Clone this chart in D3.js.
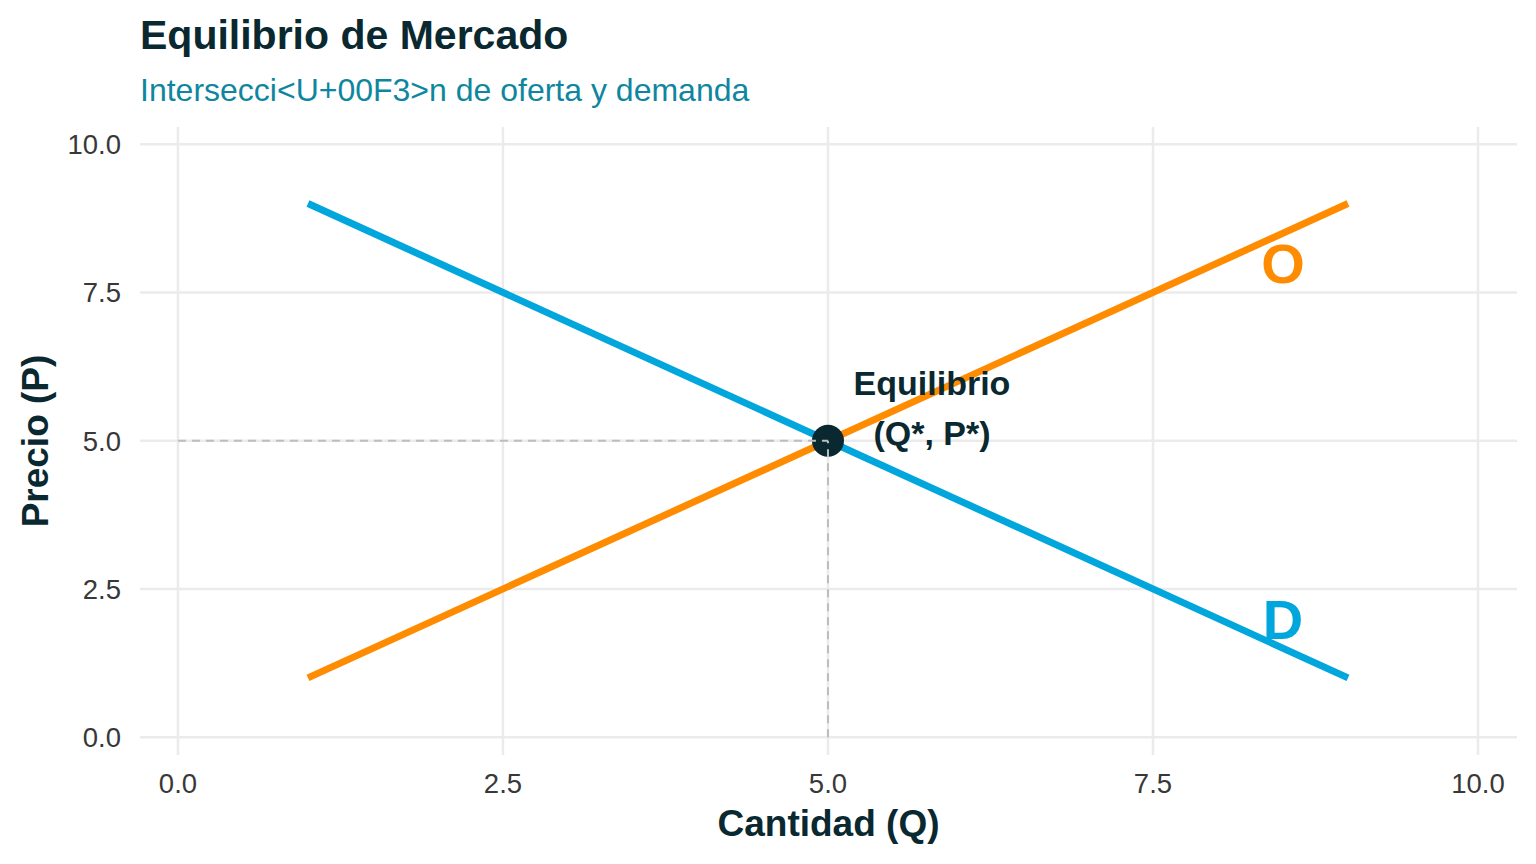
<!DOCTYPE html>
<html>
<head>
<meta charset="utf-8">
<script src="https://cdn.jsdelivr.net/npm/d3@7"></script>
<style>
  body { margin: 0; background: #fff; }
  text { font-family: "Liberation Sans", Arial, sans-serif; }
</style>
</head>
<body>
<script>
const width = 1536, height = 864;
const panel = { left: 140, right: 1517, top: 127, bottom: 755 };

// data
const supplyQ = [1, 9];
const supplyP = [1, 9];
const demandQ = [1, 9];
const demandP = [9, 1];
const eqQ = 5, eqP = 5;
const ticks = [0, 2.5, 5, 7.5, 10];
const curveLabels = [
    { text: "O", q: 8.5, p: 8, color: "#ff8c00" },
    { text: "D", q: 8.5, p: 2, color: "#00a6dc" }
];
const eqLabel = ["Equilibrio", "(Q*, P*)"];

const x = d3.scaleLinear().domain([-0.292, 10.3]).range([panel.left, panel.right]);
const y = d3.scaleLinear().domain([-0.3, 10.29]).range([panel.bottom, panel.top]);

const svg = d3.select("body").append("svg")
    .attr("width", width)
    .attr("height", height);

// grid
svg.append("g").selectAll("line").data(ticks).join("line")
    .attr("x1", panel.left).attr("x2", panel.right)
    .attr("y1", d => y(d)).attr("y2", d => y(d))
    .attr("stroke", "#ebebeb").attr("stroke-width", 2.5);
svg.append("g").selectAll("line").data(ticks).join("line")
    .attr("y1", panel.top).attr("y2", panel.bottom)
    .attr("x1", d => x(d)).attr("x2", d => x(d))
    .attr("stroke", "#ebebeb").attr("stroke-width", 2.5);

// tick labels
const fmt = d3.format(".1f");
svg.append("g").selectAll("text").data(ticks).join("text")
    .attr("x", 121).attr("y", d => y(d)).attr("dy", "0.36em")
    .attr("text-anchor", "end").attr("font-size", 27.5).attr("fill", "#383838")
    .text(fmt);
svg.append("g").selectAll("text").data(ticks).join("text")
    .attr("x", d => x(d)).attr("y", 793)
    .attr("text-anchor", "middle").attr("font-size", 27.5).attr("fill", "#383838")
    .text(fmt);

// curves
const line = d3.line().x(d => x(d[0])).y(d => y(d[1]));
svg.append("path")
    .attr("d", line(d3.zip(demandQ, demandP)))
    .attr("fill", "none").attr("stroke", "#00a6dc").attr("stroke-width", 7);
svg.append("path")
    .attr("d", line(d3.zip(supplyQ, supplyP)))
    .attr("fill", "none").attr("stroke", "#ff8c00").attr("stroke-width", 7);

// equilibrium point
svg.append("circle")
    .attr("cx", x(eqQ)).attr("cy", y(eqP)).attr("r", 16)
    .attr("fill", "#0a2830");

// dashed guides (drawn over the point, as in the original)
svg.append("line")
    .attr("x1", x(0)).attr("x2", x(eqQ)).attr("y1", y(eqP)).attr("y2", y(eqP))
    .attr("stroke", "#bdbdbd").attr("stroke-width", 2).attr("stroke-dasharray", "8,6");
svg.append("line")
    .attr("x1", x(eqQ)).attr("x2", x(eqQ)).attr("y1", y(0)).attr("y2", y(eqP))
    .attr("stroke", "#bdbdbd").attr("stroke-width", 2).attr("stroke-dasharray", "8,6");

// labels
svg.append("g").selectAll("text").data(curveLabels).join("text")
    .attr("x", d => x(d.q)).attr("y", d => y(d.p)).attr("dy", "0.36em")
    .attr("text-anchor", "middle").attr("font-size", 56).attr("font-weight", "bold")
    .attr("fill", d => d.color).text(d => d.text);

svg.append("g").selectAll("text").data(eqLabel).join("text")
    .attr("x", x(5.8)).attr("y", (d, i) => y(5.55) + (i - 0.5) * 50).attr("dy", "0.36em")
    .attr("text-anchor", "middle").attr("font-size", 34).attr("font-weight", "bold")
    .attr("fill", "#0a2830").text(d => d);

// titles
svg.append("text").attr("x", 140).attr("y", 49)
    .attr("font-size", 41).attr("font-weight", "bold").attr("fill", "#0a2830")
    .text("Equilibrio de Mercado");
svg.append("text").attr("x", 140).attr("y", 101)
    .attr("font-size", 32).attr("fill", "#0f86a0")
    .text("Intersecci<U+00F3>n de oferta y demanda");

svg.append("text").attr("x", (panel.left + panel.right) / 2).attr("y", 836)
    .attr("text-anchor", "middle").attr("font-size", 37).attr("font-weight", "bold")
    .attr("fill", "#0a2830").text("Cantidad (Q)");
svg.append("text")
    .attr("transform", `translate(48,${(panel.top + panel.bottom) / 2}) rotate(-90)`)
    .attr("text-anchor", "middle").attr("font-size", 37).attr("font-weight", "bold")
    .attr("fill", "#0a2830").text("Precio (P)");
</script>
</body>
</html>
